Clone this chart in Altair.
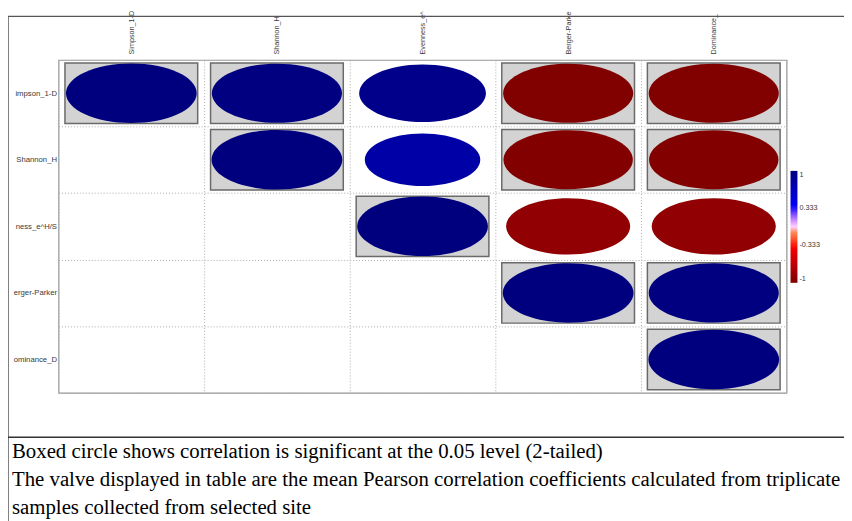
import altair as alt
import pandas as pd

# ---------------- data ----------------
indices = ["Simpson_1-D", "Shannon_H", "Evenness_e^H/S", "Berger-Parker", "Dominance_D"]
# visible (clipped) parts of the labels as shown in the figure
top_labels = ["Simpson_1-D", "Shannon_H", "Evenness_e^", "Berger-Parke", "Dominance_"]
left_labels = ["impson_1-D", "Shannon_H", "ness_e^H/S", "erger-Parker", "ominance_D"]

row_names = (["Simpson_1-D"] * 5 + ["Shannon_H"] * 4 + ["Evenness_e^H/S"] * 3
             + ["Berger-Parker"] * 2 + ["Dominance_D"])
col_names = indices[0:] + indices[1:] + indices[2:] + indices[3:] + indices[4:]
r_values = [1.0, 0.99, 0.94, -0.99, -0.99,
            1.0, 0.78, -0.98, -0.98,
            1.0, -0.90, -0.90,
            1.0, 0.99,
            1.0]
significant = [1, 1, 0, 1, 1,
               1, 0, 1, 1,
               1, 0, 0,
               1, 1,
               1]

legend_values = [1, 0.333, -0.333, -1]
note_lines = [
    "Boxed circle shows correlation is significant at the 0.05 level (2-tailed)",
    "The valve displayed in table are the mean Pearson correlation coefficients calculated from triplicate",
    "samples collected from selected site",
]

df = pd.DataFrame({"row": row_names, "col": col_names, "r": r_values, "sig": significant})
df["absr"] = df["r"].abs()


def label_expr(full, shown):
    expr = "''"
    for f, s in reversed(list(zip(full, shown))):
        expr = f"datum.value == '{f}' ? '{s}' : ({expr})"
    return expr


PW, PH = 735, 336
BOX_W = 134
RATIO = 0.455

x_enc = alt.X(
    "col:N",
    sort=indices,
    scale=alt.Scale(domain=indices, paddingInner=0, paddingOuter=0),
    axis=alt.Axis(
        orient="top", title=None, labelAngle=-90, labelAlign="left", labelBaseline="middle",
        labelExpr=label_expr(indices, top_labels), labelFont="Liberation Sans", labelFontSize=7.3,
        labelColor="#3a3a3a", labelPadding=6, ticks=False, domain=False,
        grid=True, tickBand="extent", gridColor="#aaaaaa", gridDash=[1, 2], gridWidth=1,
        labelLimit=200,
    ),
)
y_enc = alt.Y(
    "row:N",
    sort=indices,
    scale=alt.Scale(domain=indices, paddingInner=0, paddingOuter=0),
    axis=alt.Axis(
        title=None, labelExpr=label_expr(indices, left_labels), labelFont="Liberation Sans",
        labelFontSize=7.8, labelColor="#3a3a3a", labelPadding=2, ticks=False, domain=False,
        grid=True, tickBand="extent", gridColor="#aaaaaa", gridDash=[1, 2], gridWidth=1,
        labelLimit=200,
    ),
)

rect_path = f"M -1 -{RATIO} L 1 -{RATIO} L 1 {RATIO} L -1 {RATIO} Z"
ellipse_path = f"M -1 0 A 1 {RATIO} 0 1 0 1 0 A 1 {RATIO} 0 1 0 -1 0 Z"

boxes = alt.Chart(df).transform_filter("datum.sig == 1").mark_point(
    shape=rect_path, filled=True, fill="#d3d3d3", stroke="#6a6a6a", strokeWidth=1.5,
    opacity=1, size=BOX_W * BOX_W,
).encode(x=x_enc, y=y_enc)

ellipses = alt.Chart(df).mark_point(
    shape=ellipse_path, filled=True, opacity=1, strokeWidth=0,
).encode(
    x=x_enc,
    y=y_enc,
    size=alt.Size("absr:Q", scale=alt.Scale(type="linear", domain=[0, 1],
                                            range=[0, (BOX_W - 2) ** 2]), legend=None),
    color=alt.Color(
        "r:Q",
        scale=alt.Scale(domain=[-1, -0.333, 0, 0.333, 1],
                        range=["#7f0000", "#ff0000", "#ffffff", "#0000ff", "#00007f"]),
        legend=alt.Legend(
            orient="none", legendX=739, legendY=112, direction="vertical",
            gradientLength=113, gradientThickness=7, title=None, values=legend_values,
            labelFont="Liberation Sans", labelFontSize=7.3, labelColor="#3a3a3a",
            gradientStrokeWidth=0, labelOverlap=False, labelOffset=2,
            labelExpr="datum.value == 1 ? '1' : datum.value == -1 ? '-1' : datum.value > 0 ? '0.333' : '-0.333'",
        ),
    ),
)

one = pd.DataFrame({"a": [0]})
frame_col = "#555555"
top_line = alt.Chart(one).mark_rule(color=frame_col, strokeWidth=1.5).encode(
    x=alt.value(-51), x2=alt.value(793), y=alt.value(-44), y2=alt.value(-44))
left_line = alt.Chart(one).mark_rule(color=frame_col, strokeWidth=1.5).encode(
    x=alt.value(-51), x2=alt.value(-51), y=alt.value(-44), y2=alt.value(470))
sep_line = alt.Chart(one).mark_rule(color="#333333", strokeWidth=1.5).encode(
    x=alt.value(-51), x2=alt.value(793), y=alt.value(381), y2=alt.value(381))

text_layers = []
for i, line in enumerate(note_lines):
    text_layers.append(
        alt.Chart(pd.DataFrame({"t": [line]})).mark_text(
            align="left", baseline="alphabetic", font="Liberation Serif", fontSize=21,
            color="#000000",
        ).encode(x=alt.value(-47), y=alt.value(402 + i * 28), text="t:N")
    )

chart = alt.layer(boxes, ellipses, top_line, left_line, sep_line, *text_layers).properties(
    width=PW, height=PH,
    autosize=alt.AutoSizeParams(type="none"),
    padding={"left": 51, "top": 50, "right": 58, "bottom": 127},
).configure_view(stroke="#9a9a9a", strokeWidth=1.2)

chart.save("out.html", embed_options={"renderer": "svg", "actions": False})
